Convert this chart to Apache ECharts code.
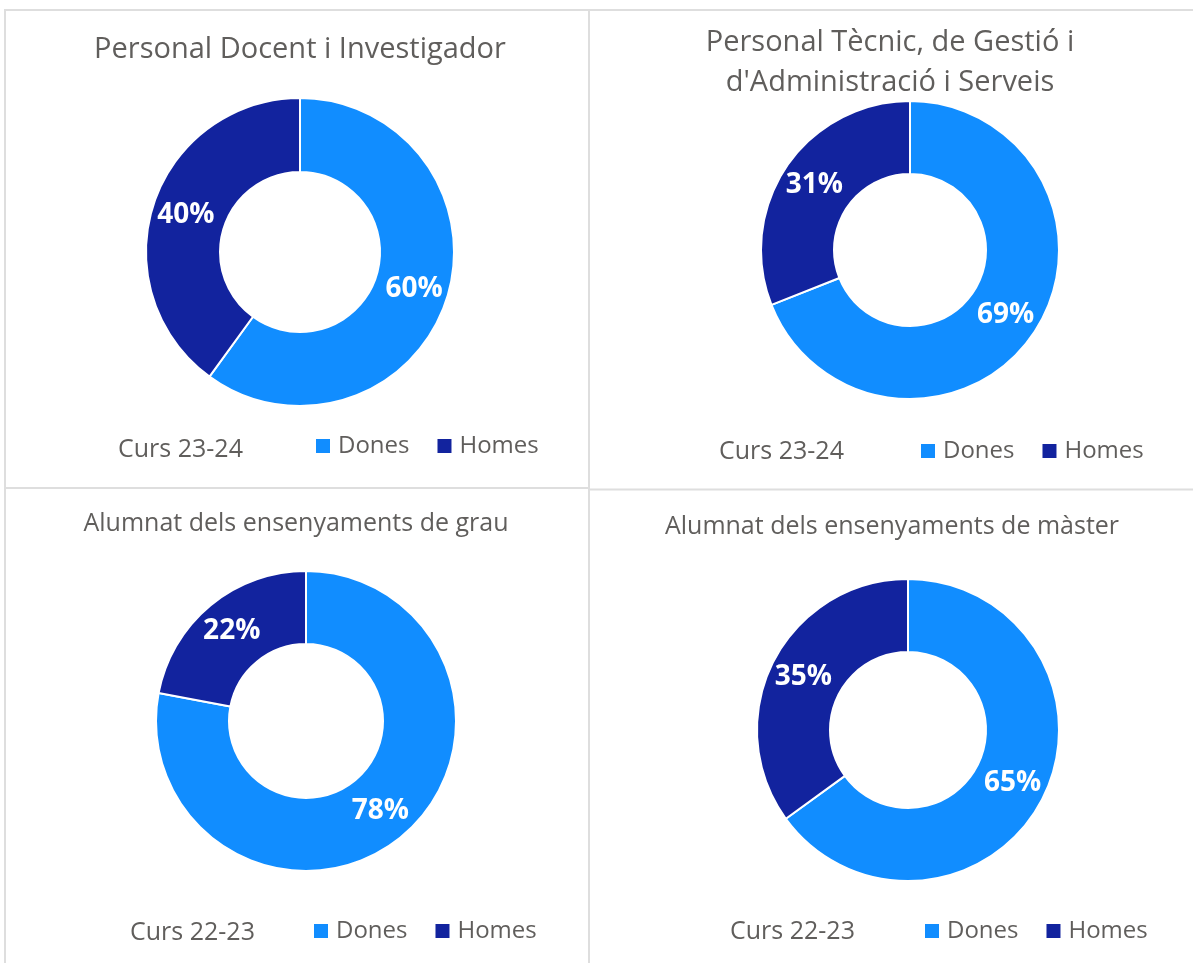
<!DOCTYPE html>
<html>
<head>
    <meta charset="utf-8">
    <title>Dones i homes a la universitat</title>
    <script src="https://cdn.jsdelivr.net/npm/echarts@6/dist/echarts.min.js"></script>
    <style>
        html, body {
            margin: 0;
            padding: 0;
            background: #fff;
        }
        #chart-container {
            width: 1193px;
            height: 963px;
        }
    </style>
</head>
<body>
<div id="chart-container"></div>

<script>
    // dades
    var categories = ['Dones', 'Homes'];
    var panelTitles = [
        'Personal Docent i Investigador',
        'Personal Tècnic, de Gestió i\nd\'Administració i Serveis',
        'Alumnat dels ensenyaments de grau',
        'Alumnat dels ensenyaments de màster'
    ];
    var courses = ['Curs 23-24', 'Curs 23-24', 'Curs 22-23', 'Curs 22-23'];
    var donesValues = [60, 69, 78, 65];
    var homesValues = [40, 31, 22, 35];

    // colors i tipografia
    var colors = ['#118DFF', '#12239E'];
    var textColor = '#605E5C';
    var font = '"Open Sans", "Noto Sans", sans-serif';

    // posició de cada panell (pie, títol, curs, llegenda)
    var layout = [
        { center: [300, 252], radius: [80, 154], titleX: 300, titleY: 50, titleSize: 29, cursX: 118, cursY: 450, legendX: 309, legendY: 441 },
        { center: [910, 250], radius: [76, 149], titleX: 890, titleY: 63, titleSize: 29, cursX: 719, cursY: 452, legendX: 914, legendY: 446 },
        { center: [306, 721], radius: [77, 150], titleX: 296, titleY: 524, titleSize: 25, cursX: 130, cursY: 933, legendX: 307, legendY: 926 },
        { center: [908, 730], radius: [78, 151], titleX: 892, titleY: 527, titleSize: 25, cursX: 730, cursY: 932, legendX: 918, legendY: 926 }
    ];

    var myChart = echarts.init(document.getElementById('chart-container'));

    var series = [];
    var legends = [];
    var graphics = [];

    // línies de separació entre panells
    var lineStyle = { stroke: '#DEDEDE', lineWidth: 2 };
    [[4, 10, 1193, 10], [5, 9, 5, 963], [589, 10, 589, 963], [5, 488, 589, 488], [589, 489.5, 1193, 489.5]].forEach(function (l) {
        graphics.push({
            type: 'line', silent: true,
            shape: { x1: l[0], y1: l[1], x2: l[2], y2: l[3] },
            style: lineStyle
        });
    });

    layout.forEach(function (p, i) {
        series.push({
            name: panelTitles[i],
            type: 'pie',
            center: p.center,
            radius: p.radius,
            startAngle: 90,
            clockwise: true,
            avoidLabelOverlap: false,
            itemStyle: {
                borderColor: '#fff',
                borderWidth: 2
            },
            label: {
                show: true,
                position: 'inside',
                formatter: '{c}%',
                color: '#fff',
                fontSize: 28,
                fontWeight: 'bold',
                fontFamily: font
            },
            labelLine: { show: false },
            emphasis: { scale: false },
            data: [
                { name: categories[0], value: donesValues[i] },
                { name: categories[1], value: homesValues[i] }
            ]
        });

        legends.push({
            data: categories,
            orient: 'horizontal',
            left: p.legendX,
            top: p.legendY - 13,
            icon: 'rect',
            itemWidth: 16,
            itemHeight: 16,
            itemGap: 26,
            selectedMode: false,
            textStyle: {
                color: textColor,
                fontSize: 24,
                fontFamily: font,
                lineHeight: 26,
                padding: [0, 0, 0, 2]
            }
        });

        graphics.push({
            type: 'text',
            x: p.titleX,
            y: p.titleY,
            style: {
                text: panelTitles[i],
                fill: textColor,
                fontSize: p.titleSize,
                fontFamily: font,
                lineHeight: 40,
                align: 'center',
                verticalAlign: 'middle'
            }
        });

        graphics.push({
            type: 'text',
            x: p.cursX,
            y: p.cursY,
            style: {
                text: courses[i],
                fill: textColor,
                fontSize: 25,
                fontFamily: font,
                align: 'left',
                verticalAlign: 'middle'
            }
        });
    });

    var option = {
        animation: false,
        color: colors,
        tooltip: {
            trigger: 'item',
            formatter: '{a} <br/>{b}: {c}%'
        },
        legend: legends,
        graphic: graphics,
        series: series
    };

    myChart.setOption(option);

    window.addEventListener('resize', function () {
        myChart.resize();
    });
</script>
</body>
</html>
